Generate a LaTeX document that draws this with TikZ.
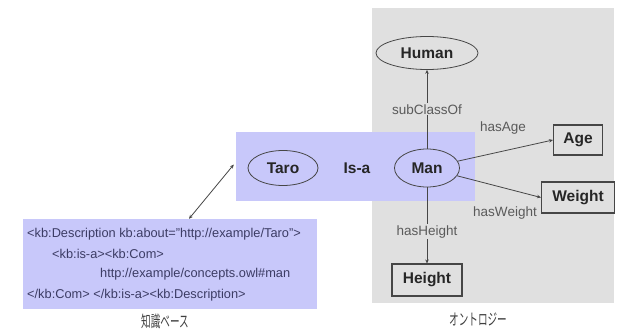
\documentclass[tikz,border=0pt]{standalone}
\usepackage{fontspec}
\setmainfont{Liberation Sans}
\newfontfamily\jpfont{Noto Sans CJK JP}
\usetikzlibrary{shapes.geometric,arrows.meta,positioning}
\definecolor{kbblue}{RGB}{200,200,250}
\definecolor{ontgray}{RGB}{224,224,224}
\definecolor{edgecol}{RGB}{70,70,70}
\definecolor{labcol}{RGB}{90,90,90}
\definecolor{desccol}{RGB}{60,60,100}
\tikzset{
  x=1pt,y=-1pt,
  concept/.style={ellipse,draw=edgecol,line width=0.8pt,inner sep=0pt,font=\fontsize{15.5}{17}\selectfont\bfseries,text=black!85},
  valbox/.style={rectangle,draw=edgecol,line width=1.1pt,inner sep=0pt,font=\fontsize{15.5}{17}\selectfont\bfseries,text=black!85},
  rel/.style={draw=edgecol,line width=0.8pt,-{Stealth[length=4pt,width=3.5pt]}},
  rellab/.style={font=\fontsize{13.5}{15}\selectfont,text=labcol,inner sep=1pt},
  descline/.style={anchor=west,font=\fontsize{12.8}{14}\selectfont,text=desccol,inner sep=0pt},
  jplab/.style={font=\jpfont\fontsize{16}{18}\selectfont,text=black!75,transform shape,xscale=0.6}
}
\begin{document}
\begin{tikzpicture}
\useasboundingbox (0,0) rectangle (618,329);
% ontology background
\node[fill=ontgray,minimum width=242pt,minimum height=295pt,inner sep=0pt] (ont) at (493,155.5) {};
% knowledge-base strip
\node[fill=kbblue,minimum width=239pt,minimum height=69pt,inner sep=0pt] (kb) at (355.5,166.5) {};
% description box
\node[fill=kbblue,minimum width=294pt,minimum height=90pt,inner sep=0pt] (desc) at (170,264) {};
\node[descline] (d1) at (27,234) {<kb:Description kb:about="http://example/Taro">};
\node[descline] (d2) at (52,254) {<kb:is-a><kb:Com>};
\node[descline] (d3) at (100,274) {http://example/concepts.owl\#man};
\node[descline] (d4) at (27,295) {</kb:Com> </kb:is-a><kb:Description>};
% concepts
\node[concept,minimum width=102pt,minimum height=33pt] (human) at (427,53) {Human};
\node[concept,minimum width=70pt,minimum height=35pt] (taro) at (283,168) {Taro};
\node[font=\fontsize{15.5}{17}\selectfont\bfseries,text=black!85] (isa) at (357,168) {Is-a};
\node[concept,minimum width=65pt,minimum height=38pt] (man) at (427,168) {Man};
\node[valbox,minimum width=49pt,minimum height=30pt] (age) at (578,140) {Age};
\node[valbox,minimum width=73pt,minimum height=31pt] (weight) at (578,197.5) {Weight};
\node[valbox,minimum width=70pt,minimum height=32pt] (height) at (427,280) {Height};
% relations
\draw[rel] (man) -- node[rellab,fill=ontgray] (lsub) {subClassOf} (human);
\draw[rel] (man) -- (age.west);
\node[rellab] (lage) at (503,128) {hasAge};
\draw[rel] (man) -- (weight.west);
\node[rellab] (lweight) at (505,213) {hasWeight};
\draw[rel] (man) -- node[rellab,fill=ontgray,pos=0.58] (lheight) {hasHeight} (height);
% kb link
\draw[draw=edgecol,line width=0.8pt,{Stealth[length=4pt,width=3.5pt]}-{Stealth[length=4pt,width=3.5pt]}] ([xshift=-2pt,yshift=2pt]kb.west) -- ([xshift=19pt]desc.north);
% captions
\node[jplab] (cap1) at (165,321) {知識ベース};
\node[jplab] (cap2) at (478,319) {オントロジー};
\end{tikzpicture}
\end{document}
